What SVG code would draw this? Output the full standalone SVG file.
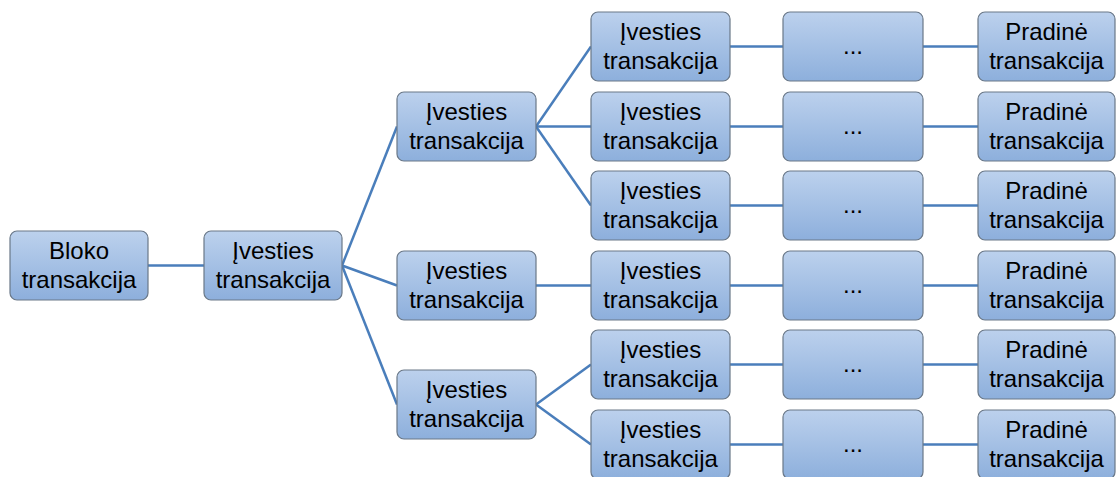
<svg xmlns="http://www.w3.org/2000/svg" width="1117" height="477" viewBox="0 0 1117 477">
<defs>
<linearGradient id="g" x1="0" y1="0" x2="0" y2="1">
<stop offset="0" stop-color="#bcd1ed"/>
<stop offset="1" stop-color="#8dafdc"/>
</linearGradient>
<style>
.n rect{fill:url(#g);stroke:#6a7888;stroke-width:1.2}
.n text{font-family:"Liberation Sans",Arial,sans-serif;font-size:24px;fill:#000;text-anchor:middle}
#connectors line{stroke:#4a7ebb;stroke-width:2.5}
</style>
</defs>
<rect width="1117" height="477" fill="#fff"/>
<g id="connectors">
<line x1="148" y1="265.5" x2="204" y2="265.5"/>
<line x1="342" y1="265.5" x2="397" y2="126.5"/>
<line x1="342" y1="265.5" x2="397" y2="285.5"/>
<line x1="342" y1="265.5" x2="397" y2="404.5"/>
<line x1="536" y1="126.5" x2="591" y2="46.5"/>
<line x1="536" y1="126.5" x2="591" y2="126.5"/>
<line x1="536" y1="126.5" x2="591" y2="205.5"/>
<line x1="536" y1="285.5" x2="591" y2="285.5"/>
<line x1="536" y1="404.5" x2="591" y2="364.5"/>
<line x1="536" y1="404.5" x2="591" y2="444.5"/>
<line x1="730" y1="46.5" x2="783" y2="46.5"/><line x1="923" y1="46.5" x2="978" y2="46.5"/>
<line x1="730" y1="126.5" x2="783" y2="126.5"/><line x1="923" y1="126.5" x2="978" y2="126.5"/>
<line x1="730" y1="205.5" x2="783" y2="205.5"/><line x1="923" y1="205.5" x2="978" y2="205.5"/>
<line x1="730" y1="285.5" x2="783" y2="285.5"/><line x1="923" y1="285.5" x2="978" y2="285.5"/>
<line x1="730" y1="364.5" x2="783" y2="364.5"/><line x1="923" y1="364.5" x2="978" y2="364.5"/>
<line x1="730" y1="444.5" x2="783" y2="444.5"/><line x1="923" y1="444.5" x2="978" y2="444.5"/>
</g>
<g id="bloko" class="n"><rect x="10" y="231" width="138" height="69" rx="7"/><text x="79" y="259">Bloko</text><text x="79" y="287.5">transakcija</text></g>
<g id="ivestis-1" class="n"><rect x="204" y="231" width="138" height="69" rx="7"/><text x="273" y="259">Įvesties</text><text x="273" y="287.5">transakcija</text></g>
<g id="ivestis-2a" class="n"><rect x="397" y="92" width="139" height="69" rx="7"/><text x="466.5" y="120">Įvesties</text><text x="466.5" y="148.5">transakcija</text></g>
<g id="ivestis-2b" class="n"><rect x="397" y="251" width="139" height="69" rx="7"/><text x="466.5" y="279">Įvesties</text><text x="466.5" y="307.5">transakcija</text></g>
<g id="ivestis-2c" class="n"><rect x="397" y="370" width="139" height="69" rx="7"/><text x="466.5" y="398">Įvesties</text><text x="466.5" y="426.5">transakcija</text></g>

<g id="ivestis-3-1" class="n"><rect x="591" y="12" width="139" height="69" rx="7"/><text x="660.5" y="40">Įvesties</text><text x="660.5" y="68.5">transakcija</text></g>
<g id="ivestis-3-2" class="n"><rect x="591" y="92" width="139" height="69" rx="7"/><text x="660.5" y="120">Įvesties</text><text x="660.5" y="148.5">transakcija</text></g>
<g id="ivestis-3-3" class="n"><rect x="591" y="171" width="139" height="69" rx="7"/><text x="660.5" y="199">Įvesties</text><text x="660.5" y="227.5">transakcija</text></g>
<g id="ivestis-3-4" class="n"><rect x="591" y="251" width="139" height="69" rx="7"/><text x="660.5" y="279">Įvesties</text><text x="660.5" y="307.5">transakcija</text></g>
<g id="ivestis-3-5" class="n"><rect x="591" y="330" width="139" height="69" rx="7"/><text x="660.5" y="358">Įvesties</text><text x="660.5" y="386.5">transakcija</text></g>
<g id="ivestis-3-6" class="n"><rect x="591" y="410" width="139" height="69" rx="7"/><text x="660.5" y="438">Įvesties</text><text x="660.5" y="466.5">transakcija</text></g>

<g id="dots-1" class="n"><rect x="783" y="12" width="140" height="69" rx="7"/><text x="853" y="54">...</text></g>
<g id="dots-2" class="n"><rect x="783" y="92" width="140" height="69" rx="7"/><text x="853" y="134">...</text></g>
<g id="dots-3" class="n"><rect x="783" y="171" width="140" height="69" rx="7"/><text x="853" y="213">...</text></g>
<g id="dots-4" class="n"><rect x="783" y="251" width="140" height="69" rx="7"/><text x="853" y="293">...</text></g>
<g id="dots-5" class="n"><rect x="783" y="330" width="140" height="69" rx="7"/><text x="853" y="372">...</text></g>
<g id="dots-6" class="n"><rect x="783" y="410" width="140" height="69" rx="7"/><text x="853" y="452">...</text></g>

<g id="pradine-1" class="n"><rect x="978" y="12" width="137" height="69" rx="7"/><text x="1046.5" y="40">Pradinė</text><text x="1046.5" y="68.5">transakcija</text></g>
<g id="pradine-2" class="n"><rect x="978" y="92" width="137" height="69" rx="7"/><text x="1046.5" y="120">Pradinė</text><text x="1046.5" y="148.5">transakcija</text></g>
<g id="pradine-3" class="n"><rect x="978" y="171" width="137" height="69" rx="7"/><text x="1046.5" y="199">Pradinė</text><text x="1046.5" y="227.5">transakcija</text></g>
<g id="pradine-4" class="n"><rect x="978" y="251" width="137" height="69" rx="7"/><text x="1046.5" y="279">Pradinė</text><text x="1046.5" y="307.5">transakcija</text></g>
<g id="pradine-5" class="n"><rect x="978" y="330" width="137" height="69" rx="7"/><text x="1046.5" y="358">Pradinė</text><text x="1046.5" y="386.5">transakcija</text></g>
<g id="pradine-6" class="n"><rect x="978" y="410" width="137" height="69" rx="7"/><text x="1046.5" y="438">Pradinė</text><text x="1046.5" y="466.5">transakcija</text></g>
</svg>
